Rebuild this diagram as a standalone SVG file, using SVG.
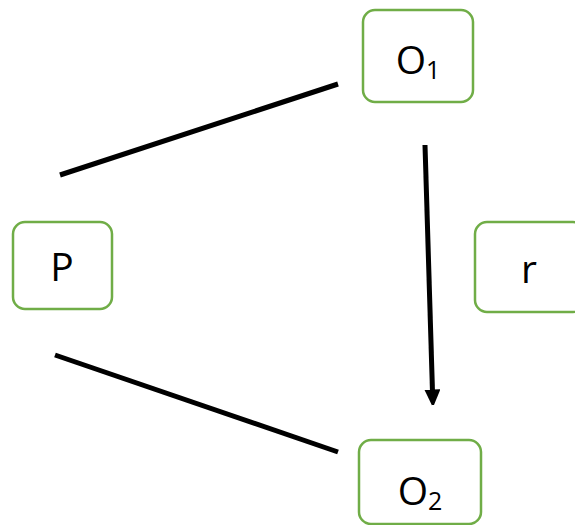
<svg xmlns="http://www.w3.org/2000/svg" width="575" height="525" viewBox="0 0 575 525">
<style>
.node{fill:#fff;stroke:#70ad47;stroke-width:2.5}
.lbl{font-family:"Open Sans","Liberation Sans",sans-serif;font-size:39px;fill:#000;text-anchor:middle}
.sub{font-size:25px}
.edge{stroke:#000;stroke-width:5;fill:none}
</style>
<defs>
<marker id="ah" markerWidth="3.2" markerHeight="4" refX="0.5" refY="1.6" orient="auto" markerUnits="strokeWidth">
<path d="M0,0 L3.6,1.6 L0,3.2 Z" fill="#000"/>
</marker>
</defs>
<rect width="575" height="525" fill="#fff"/>
<g id="connectors">
<line class="edge" x1="60" y1="175" x2="338" y2="84"/>
<line class="edge" x1="55" y1="355" x2="338" y2="452"/>
<line class="edge" x1="425" y1="145" x2="432.5" y2="392" marker-end="url(#ah)"/>
</g>
<g id="O1">
<rect class="node" x="363" y="10" width="110" height="92" rx="12"/>
<text class="lbl" x="418" y="74">O<tspan class="sub" dy="5">1</tspan></text>
</g>
<g id="O2">
<rect class="node" x="359" y="440" width="122" height="84" rx="12"/>
<text class="lbl" x="420" y="505">O<tspan class="sub" dy="5">2</tspan></text>
</g>
<g id="P">
<rect class="node" x="13" y="222" width="99" height="87" rx="12"/>
<text class="lbl" x="62" y="281">P</text>
</g>
<g id="r">
<rect class="node" x="475" y="222" width="110" height="90" rx="12"/>
<text class="lbl" x="529" y="283">r</text>
</g>
</svg>
